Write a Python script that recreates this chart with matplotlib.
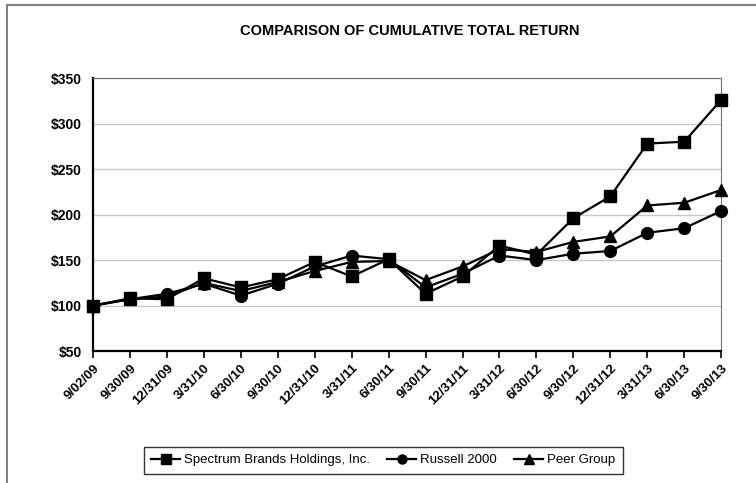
import matplotlib.pyplot as plt
from matplotlib.lines import Line2D

dates = ['9/02/09', '9/30/09', '12/31/09', '3/31/10', '6/30/10', '9/30/10',
         '12/31/10', '3/31/11', '6/30/11', '9/30/11', '12/31/11', '3/31/12',
         '6/30/12', '9/30/12', '12/31/12', '3/31/13', '6/30/13', '9/30/13']
spectrum = [100, 108, 107, 130, 120, 129, 148, 132, 151, 113, 132, 166,
            156, 196, 220, 278, 280, 326]
russell = [100, 107, 113, 124, 111, 124, 143, 155, 151, 120, 135, 155,
           150, 157, 160, 180, 185, 204]
peer = [100, 107, 110, 125, 116, 126, 138, 148, 149, 128, 143, 162,
        159, 170, 176, 210, 213, 227]

plt.rcParams['font.family'] = ['Liberation Sans', 'DejaVu Sans']

fig = plt.figure(figsize=(7.56, 4.83), dpi=100)
ax = fig.add_axes([0.123, 0.273, 0.831, 0.5655])

x = list(range(len(dates)))
ax.plot(x, spectrum, color='black', lw=1.6, marker='s', ms=8.5, clip_on=False, zorder=5)
ax.plot(x, russell, color='black', lw=1.6, marker='o', ms=8.5, clip_on=False, zorder=4)
ax.plot(x, peer, color='black', lw=1.6, marker='^', ms=8.5, clip_on=False, zorder=4)

ax.set_xlim(0, len(dates) - 1)
ax.set_ylim(50, 350)
ax.set_yticks(range(50, 351, 50))
ax.set_yticklabels([f'${v}' for v in range(50, 351, 50)], fontsize=10, fontweight='bold')
ax.set_xticks(x)
ax.set_xticklabels(dates, rotation=45, ha='right', rotation_mode='anchor',
                   fontsize=9.5, fontweight='bold')
ax.tick_params(axis='y', length=0, pad=8)
ax.tick_params(axis='x', length=5, width=1.2, direction='out', pad=3)
ax.yaxis.grid(True, color='#c8c8c8', lw=1)
ax.set_axisbelow(True)
ax.spines['left'].set_linewidth(1.6)
ax.spines['bottom'].set_linewidth(1.6)
ax.spines['top'].set_color('#707070')
ax.spines['right'].set_color('#707070')

fig.text(0.542, 0.935, 'COMPARISON OF CUMULATIVE TOTAL RETURN', ha='center',
         va='center', fontsize=10.5, fontweight='bold')

leg = fig.legend(handles=[Line2D([], [], color='black', lw=1.6, marker=m, ms=6.5)
                          for m in ['s', 'o', '^']],
                 labels=['Spectrum Brands Holdings, Inc.', 'Russell 2000', 'Peer Group'],
                 loc='center', bbox_to_anchor=(0.507, 0.047), ncol=3, fontsize=9.5,
                 frameon=True, fancybox=False, edgecolor='black', handlelength=2.2,
                 columnspacing=1.3, handletextpad=0.3, borderpad=0.55)
leg.get_frame().set_linewidth(1.0)

# outer frame
fig.add_artist(Line2D([0.009, 0.009], [0.0, 0.99], color='#808080', lw=1.5,
                      transform=fig.transFigure))
fig.add_artist(Line2D([0.009, 1.0], [0.99, 0.99], color='#808080', lw=1.5,
                      transform=fig.transFigure))

fig.savefig('out.png', dpi=100)
